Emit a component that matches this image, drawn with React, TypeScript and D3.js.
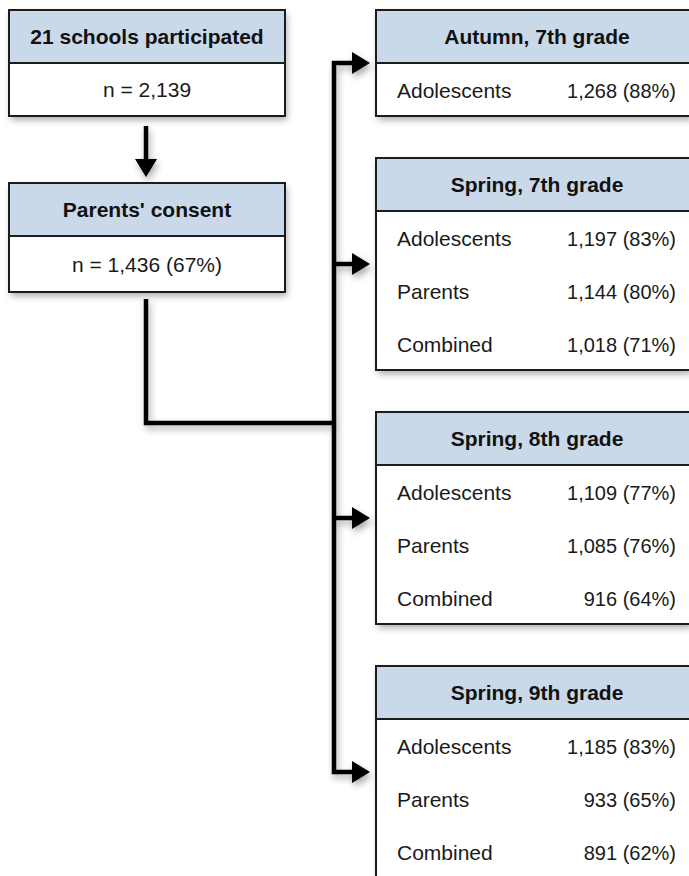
import React from "react";
import * as d3 from "d3";

// ---- data ----
const topTitles = ["21 schools participated", "Parents' consent"];
const topValues = ["n = 2,139", "n = 1,436 (67%)"];

const waves = ["Autumn, 7th grade", "Spring, 7th grade", "Spring, 8th grade", "Spring, 9th grade"];
const groups = ["Adolescents", "Parents", "Combined"];
const adolescentsN = [1268, 1197, 1109, 1185];
const adolescentsPct = [88, 83, 77, 83];
const parentsN = [null, 1144, 1085, 933];
const parentsPct = [null, 80, 76, 65];
const combinedN = [null, 1018, 916, 891];
const combinedPct = [null, 71, 64, 62];

// ---- layout ----
const W = 689;
const H = 876;
const FONT = "'Liberation Sans', Arial, Helvetica, sans-serif";
const HEAD_FILL = "#c9d9ea";
const BORDER = "#1c1c1c";
const headerH = 53;
const rowH = 53;
const gapR = 42;
const rightX = 376;
const rightW = 314;
const leftX = 9;
const leftW = 276;
const topY = 10;
const leftGap = 67;
const trunkX = 334;
const junctionY = 423;
const lineW = 4.5;

const fmt = d3.format(",");

type Row = { label: string; text: string };

const waveRows: Row[][] = waves.map((_, i) => {
  const rows: Row[] = [];
  const sets = [
    [adolescentsN, adolescentsPct],
    [parentsN, parentsPct],
    [combinedN, combinedPct],
  ] as const;
  sets.forEach(([ns, ps], g) => {
    const n = ns[i];
    const p = ps[i];
    if (n != null && p != null) rows.push({ label: groups[g], text: `${fmt(n)} (${p}%)` });
  });
  return rows;
});

const rightBoxes = (() => {
  let y = topY;
  return waveRows.map((rows, i) => {
    const h = headerH + rows.length * rowH;
    const b = { x: rightX, y, w: rightW, h, title: waves[i], rows };
    y += h + gapR;
    return b;
  });
})();

const leftBoxes = topTitles.map((t, i) => {
  const h = headerH + rowH + (i === 1 ? 3 : 0);
  const y = topY + i * (headerH + rowH + leftGap);
  return { x: leftX, y, w: leftW, h, title: t, value: topValues[i] };
});

const line = d3.line<[number, number]>();

function arrowHead(tipX: number, tipY: number, dir: "right" | "down") {
  const len = 18;
  const half = 11;
  const pts: [number, number][] =
    dir === "right"
      ? [[tipX, tipY], [tipX - len, tipY - half], [tipX - len, tipY + half]]
      : [[tipX, tipY], [tipX - half, tipY - len], [tipX + half, tipY - len]];
  return line(pts) + "Z";
}

export default function App() {
  const leftCx = leftX + leftW / 2 - 1;
  const arrowYs = rightBoxes.map((b) => b.y + b.h / 2);
  const tipX = rightX - 6;

  const lb0 = leftBoxes[0];
  const lb1 = leftBoxes[1];

  return (
    <svg
      width={W}
      height={H}
      style={{ position: "absolute", left: 0, top: 0, background: "#fff" }}
      fontFamily={FONT}
    >
      <defs>
        <filter id="sh" x="-10%" y="-10%" width="130%" height="130%">
          <feDropShadow dx="2" dy="4" stdDeviation="3.5" floodColor="#000" floodOpacity="0.33" />
        </filter>
      </defs>

      {/* connectors */}
      <g filter="url(#sh)" stroke="#000" strokeWidth={lineW} fill="none">
        <path d={line([[leftCx, lb0.y + lb0.h + 10], [leftCx, lb1.y - 22]])!} />
        <path
          d={line([
            [leftCx, lb1.y + lb1.h + 7],
            [leftCx, junctionY],
            [trunkX, junctionY],
          ])!}
          strokeLinejoin="miter"
        />
        <path
          d={line([
            [tipX - 14, arrowYs[0]],
            [trunkX, arrowYs[0]],
            [trunkX, arrowYs[arrowYs.length - 1]],
            [tipX - 14, arrowYs[arrowYs.length - 1]],
          ])!}
          strokeLinejoin="miter"
        />
        {arrowYs.slice(1, -1).map((y, i) => (
          <path key={i} d={line([[trunkX, y], [tipX - 14, y]])!} />
        ))}
      </g>
      <g filter="url(#sh)" fill="#000">
        <path d={arrowHead(leftCx, lb1.y - 6, "down")} />
        {arrowYs.map((y, i) => (
          <path key={i} d={arrowHead(tipX, y, "right")} />
        ))}
      </g>

      {/* left boxes */}
      {leftBoxes.map((b, i) => (
        <g key={i}>
          <rect x={b.x} y={b.y} width={b.w} height={b.h} fill="#fff" filter="url(#sh)" />
          <rect x={b.x} y={b.y} width={b.w} height={headerH} fill={HEAD_FILL} />
          <rect x={b.x} y={b.y} width={b.w} height={b.h} fill="none" stroke={BORDER} strokeWidth={2} />
          <line x1={b.x} x2={b.x + b.w} y1={b.y + headerH} y2={b.y + headerH} stroke={BORDER} strokeWidth={2} />
          <text
            x={b.x + b.w / 2}
            y={b.y + headerH / 2}
            textAnchor="middle"
            dominantBaseline="central"
            fontWeight="bold"
            fontSize={21}
            fill="#111"
          >
            {b.title}
          </text>
          <text
            x={b.x + b.w / 2}
            y={b.y + headerH + (b.h - headerH) / 2}
            textAnchor="middle"
            dominantBaseline="central"
            fontSize={21}
            fill="#1a1a1a"
          >
            {b.value}
          </text>
        </g>
      ))}

      {/* right boxes */}
      {rightBoxes.map((b, i) => (
        <g key={i}>
          <rect x={b.x} y={b.y} width={b.w} height={b.h} fill="#fff" filter="url(#sh)" />
          <rect x={b.x} y={b.y} width={b.w} height={headerH} fill={HEAD_FILL} />
          <rect x={b.x} y={b.y} width={b.w} height={b.h} fill="none" stroke={BORDER} strokeWidth={2} />
          <line x1={b.x} x2={b.x + b.w} y1={b.y + headerH} y2={b.y + headerH} stroke={BORDER} strokeWidth={2} />
          <text
            x={b.x + 161}
            y={b.y + headerH / 2}
            textAnchor="middle"
            dominantBaseline="central"
            fontWeight="bold"
            fontSize={21}
            fill="#111"
          >
            {b.title}
          </text>
          {b.rows.map((r, j) => {
            const cy = b.y + headerH + rowH * j + rowH / 2 + 1;
            return (
              <g key={j}>
                <text x={b.x + 21} y={cy} dominantBaseline="central" fontSize={21} fill="#1a1a1a">
                  {r.label}
                </text>
                <text x={b.x + 300} y={cy} textAnchor="end" dominantBaseline="central" fontSize={20} fill="#1a1a1a">
                  {r.text}
                </text>
              </g>
            );
          })}
        </g>
      ))}
    </svg>
  );
}
